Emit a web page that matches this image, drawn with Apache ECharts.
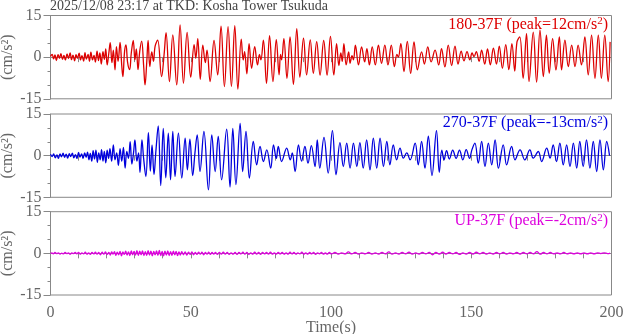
<!DOCTYPE html>
<html><head><meta charset="utf-8">
<script src="https://cdn.jsdelivr.net/npm/echarts@6/dist/echarts.min.js"></script>
<style>html,body{margin:0;padding:0;background:#fff}#c{width:624px;height:334px}</style>
</head><body><div id="c"></div>
<script>
// ---- data: [time(s), acceleration(cm/s^2)] at turning points ----
const ns180 = [[0,0.3],[0.6,1.0],[1.1,-0.6],[1.6,0.8],[2.1,-1.2],[2.7,0.9],[3.2,-0.4],[3.7,1.3],[4.3,-0.8],[4.8,0.6],[5.3,-1.0],[5.9,1.2],[6.4,-0.5],[7.0,1.5],[7.5,-0.9],[8.0,0.7],[8.6,-1.3],[9.1,0.9],[9.6,-0.4],[10.2,1.4],[10.7,-1.0],[11.2,0.5],[11.8,-1.4],[12.3,1.6],[12.8,-0.7],[13.4,1.0],[13.9,-1.5],[14.4,1.8],[15.0,-1.0],[15.5,0.6],[16.0,-1.8],[16.6,2.2],[17.1,-1.2],[17.6,1.5],[18.1,-2.5],[18.7,2.0],[19.2,-0.8],[19.7,3.0],[20.2,-2.8],[20.8,1.5],[21.3,5.2],[21.9,-2.0],[22.4,2.5],[23.0,-4.6],[23.5,3.8],[24.1,-1.5],[24.8,5.3],[25.4,-3.0],[25.8,-7.0],[26.4,2.0],[26.9,4.4],[27.5,-2.0],[28.2,-4.5],[28.8,1.5],[29.5,6.0],[30.1,-1.0],[30.6,3.0],[31.2,-4.5],[31.8,2.0],[32.5,5.8],[33.2,-3.0],[33.7,-10.0],[34.3,-2.0],[34.8,6.0],[35.4,-3.4],[36.1,1.9],[36.7,-1.5],[37.3,4.0],[38.2,6.1],[39.6,-7.0],[40.5,1.0],[41.2,8.8],[42.4,-8.8],[43.6,8.0],[45.0,-10.0],[46.2,11.6],[47.4,-9.4],[48.7,8.9],[50.0,-7.2],[51.2,4.5],[51.8,-0.4],[52.5,6.7],[53.4,-8.0],[54.3,4.3],[55.2,-2.0],[55.8,2.5],[56.9,-8.8],[58.3,6.0],[59.6,-6.4],[60.8,11.2],[62.0,-10.6],[63.3,11.0],[64.5,-10.5],[65.7,11.3],[66.8,-11.5],[68.0,6.5],[68.7,-1.0],[69.2,2.0],[70.0,-6.0],[70.8,4.9],[71.7,-4.0],[72.8,3.8],[73.8,-2.8],[74.5,1.0],[75.0,-1.0],[75.9,6.1],[77.0,-9.4],[78.1,7.7],[79.3,-8.8],[80.5,6.3],[81.5,-6.4],[82.0,1.0],[82.4,-1.0],[83.2,6.7],[84.3,-7.6],[85.4,7.3],[86.6,-9.8],[87.8,10.3],[88.9,-7.2],[90.2,6.8],[91.3,-6.4],[92.6,6.2],[93.7,-5.8],[94.9,5.6],[96.1,-6.5],[97.4,6.0],[98.6,-6.5],[99.8,7.5],[101.0,-6.4],[102.0,4.9],[102.8,-3.0],[103.5,1.5],[104.0,-1.5],[104.6,4.9],[105.4,-2.8],[106.3,1.9],[106.8,-2.2],[107.5,0.5],[108.0,-1.0],[108.7,4.3],[109.8,-2.8],[110.9,3.7],[112.0,-1.7],[112.8,3.1],[113.7,-2.8],[114.7,3.7],[115.8,-2.8],[116.9,4.3],[118.0,-2.2],[119.2,4.3],[120.3,-2.8],[121.5,4.3],[122.6,-3.4],[123.5,1.0],[124.0,0.0],[124.9,4.9],[126.0,-5.2],[127.2,5.7],[128.4,-5.8],[129.6,5.5],[130.8,-4.6],[132.3,1.9],[133.3,-2.5],[134.5,3.7],[135.7,-1.7],[137.1,2.5],[138.4,-2.8],[139.4,3.1],[140.6,-3.5],[141.8,4.3],[143.0,-3.0],[144.2,4.0],[145.3,-2.5],[146.4,2.2],[147.4,-1.3],[148.5,2.0],[149.5,-1.0],[150.3,1.5],[151.0,0.2],[151.8,2.0],[152.8,-1.5],[153.7,2.5],[154.8,-2.5],[155.8,3.0],[156.8,-2.8],[157.9,3.2],[159.0,-2.5],[160.0,4.0],[161.1,-4.0],[162.3,4.5],[163.4,-4.5],[164.5,4.9],[165.5,-5.0],[166.3,5.5],[167.3,7.3],[168.5,-7.6],[169.7,8.5],[170.6,-8.8],[172.1,9.0],[173.3,-9.0],[174.5,9.7],[175.7,-7.0],[176.8,7.9],[177.8,-5.8],[179.0,6.7],[180.2,-4.6],[181.4,7.3],[182.2,-4.6],[183.4,6.1],[184.6,-3.4],[185.8,4.3],[187.0,-3.4],[188.1,4.3],[189.3,-2.8],[190.5,7.3],[191.7,-6.4],[192.9,7.9],[194.1,-7.6],[195.3,7.9],[196.4,-7.6],[197.6,7.9],[198.8,-8.8],[199.5,5.5]];

const ew270 = [[0,0.5],[0.6,-0.3],[1.1,0.6],[1.7,-0.8],[2.3,0.3],[2.8,-1.0],[3.4,0.6],[3.9,-0.4],[4.5,0.9],[5.0,-0.6],[5.6,0.5],[6.1,-0.9],[6.7,0.7],[7.2,-0.3],[7.8,0.9],[8.3,-0.8],[8.9,0.4],[9.4,-1.0],[10.0,1.2],[10.5,-0.5],[11.1,0.6],[11.6,-1.0],[12.2,1.0],[12.7,-0.6],[13.2,1.3],[13.7,-1.5],[14.2,0.8],[14.7,-2.0],[15.2,1.8],[15.7,-1.2],[16.2,2.0],[16.7,-2.4],[17.2,1.0],[17.7,-1.5],[18.2,2.2],[18.7,-2.0],[19.2,1.5],[19.7,-2.6],[20.2,2.0],[20.7,-1.0],[21.2,2.5],[21.8,-2.0],[22.4,3.9],[23.0,-1.5],[23.6,1.0],[24.2,-3.5],[24.8,2.5],[25.4,-2.0],[26.0,3.0],[26.6,-4.5],[27.2,1.5],[27.8,-1.0],[28.4,5.0],[29.0,-3.0],[29.6,1.0],[30.1,5.7],[30.8,-2.0],[31.4,1.0],[31.9,-6.0],[32.6,5.7],[33.2,-1.0],[34.0,-7.5],[34.9,8.3],[35.6,-5.6],[36.2,3.9],[36.9,-6.8],[37.6,2.0],[38.4,10.7],[39.3,-10.8],[40.2,9.8],[41.1,-8.0],[42.0,8.1],[42.8,-8.7],[43.6,8.7],[44.4,-7.5],[45.6,8.1],[46.8,-8.1],[48.0,6.3],[48.8,-5.1],[49.7,5.9],[50.7,-7.2],[51.5,1.0],[52.3,7.5],[53.3,-5.7],[54.7,8.7],[56.3,-12.3],[57.5,7.5],[58.7,-5.7],[59.8,6.9],[61.0,-8.7],[62.8,9.5],[64.0,-11.3],[65.0,9.8],[66.1,-10.4],[67.6,11.6],[68.5,-5.7],[69.7,8.7],[70.9,-8.1],[72.3,5.1],[73.5,-3.3],[74.7,3.3],[75.9,-2.1],[77.1,2.1],[78.5,-4.5],[79.5,3.9],[80.5,-1.0],[81.2,3.3],[82.4,-2.1],[84.2,2.7],[85.5,-1.5],[86.2,1.0],[87.2,-5.7],[88.4,3.9],[89.5,-2.0],[90.7,3.3],[91.8,-2.7],[93.0,3.6],[94.3,-3.9],[95.1,5.7],[96.0,-4.5],[97.5,6.6],[99.0,-6.3],[100.5,9.0],[101.8,-6.9],[103.2,4.7],[104.4,-3.9],[105.6,4.5],[106.8,-4.5],[108.0,4.5],[109.2,-3.9],[110.3,4.7],[111.5,-4.5],[112.7,5.7],[113.9,-5.1],[115.1,6.3],[116.3,-4.5],[117.5,6.3],[118.7,-3.9],[119.9,5.1],[121.0,-3.3],[122.2,3.9],[123.4,-1.5],[124.6,2.7],[125.8,-0.9],[127.0,1.0],[128.2,-1.5],[130.0,4.5],[131.1,-3.3],[132.3,5.1],[133.5,-4.5],[134.7,7.0],[136.0,-7.2],[137.6,9.0],[138.6,-6.0],[139.5,2.0],[140.3,-1.5],[141.2,1.8],[142.2,-1.2],[143.4,2.0],[144.6,-1.0],[145.8,2.0],[147.0,-1.5],[148.2,2.2],[149.4,-1.0],[150.2,2.0],[151.3,4.5],[152.5,-2.7],[153.7,5.1],[154.9,-3.9],[156.1,4.5],[157.3,-3.3],[158.5,5.7],[159.7,-4.5],[161.4,3.9],[162.6,-3.3],[164.4,3.3],[165.6,-1.5],[167.4,2.1],[169.1,-1.5],[170.9,2.1],[172.1,-0.9],[173.9,1.5],[175.1,-2.1],[176.9,2.7],[178.1,-0.9],[179.2,3.9],[180.4,-2.1],[181.6,4.5],[182.8,-3.3],[184.0,3.9],[185.2,-3.9],[186.4,4.5],[187.6,-4.5],[188.7,5.1],[189.9,-3.9],[191.1,5.7],[192.3,-4.5],[193.5,5.1],[194.7,-5.7],[195.9,5.7],[197.1,-5.1],[198.3,5.1],[199.3,0.0]];

const ud = [[0,0],[0.5,0.2],[1.0,-0.2],[1.6,0.3],[2.2,-0.1],[2.8,0.2],[3.4,-0.3],[4.0,0.1],[4.6,-0.2],[5.2,0.3],[5.8,-0.1],[6.4,0.2],[7.0,-0.3],[7.6,0.2],[8.2,-0.1],[8.8,0.3],[9.4,-0.2],[10.0,0.3],[10.6,-0.3],[11.2,0.2],[11.8,-0.2],[12.4,0.4],[13.0,-0.3],[13.6,0.2],[14.2,-0.4],[14.8,0.3],[15.4,-0.2],[16.0,0.4],[16.6,-0.3],[17.2,0.3],[17.8,-0.5],[18.4,0.4],[19.0,-0.3],[19.6,0.5],[20.2,-0.4],[20.8,0.3],[21.3,-0.6],[21.8,0.5],[22.3,-0.3],[22.8,0.6],[23.3,-0.7],[23.8,0.4],[24.3,-0.5],[24.8,0.7],[25.3,-0.9],[25.8,0.5],[26.3,-0.4],[26.8,0.8],[27.3,-0.6],[27.8,0.5],[28.3,-0.8],[28.8,0.9],[29.3,-0.5],[29.8,0.7],[30.3,-0.6],[30.8,1.0],[31.3,-0.7],[31.8,0.8],[32.3,-0.5],[32.8,0.9],[33.3,-0.8],[33.8,0.6],[34.3,-0.7],[34.8,1.0],[35.3,-0.6],[35.8,0.8],[36.3,-0.9],[36.8,0.7],[37.3,-0.5],[37.8,0.9],[38.3,-0.7],[38.8,1.1],[39.3,-0.8],[39.8,0.7],[40.3,-0.9],[40.8,0.8],[41.3,-0.6],[41.8,0.9],[42.3,-0.8],[42.8,0.6],[43.3,-0.7],[43.8,0.8],[44.3,-0.5],[44.8,0.7],[45.3,-0.8],[45.8,0.5],[46.3,-0.6],[46.8,0.6],[47.4,-0.5],[48.0,0.5],[48.6,-0.6],[49.2,0.4],[49.8,-0.4],[50.4,0.5],[51.0,-0.5],[51.6,0.3],[52.2,-0.4],[52.8,0.4],[53.4,-0.3],[54.0,0.4],[54.6,-0.5],[55.2,0.3],[55.8,-0.3],[56.4,0.4],[57.0,-0.4],[57.6,0.3],[58.2,-0.3],[58.8,0.3],[59.5,-0.4],[60.2,0.3],[60.9,-0.3],[61.6,0.4],[62.3,-0.3],[63.0,0.3],[63.7,-0.4],[64.4,0.2],[65.1,-0.3],[65.8,0.3],[66.5,-0.4],[67.2,0.3],[67.9,-0.2],[68.6,0.4],[69.3,-0.3],[70.0,0.3],[70.7,-0.4],[71.4,0.2],[72.1,-0.3],[72.8,0.4],[73.5,-0.3],[74.2,0.3],[74.9,-0.4],[75.6,0.3],[76.3,-0.2],[77.0,0.3],[77.7,-0.3],[78.4,0.4],[79.1,-0.3],[79.8,0.2],[80.5,-0.3],[81.2,0.3],[81.9,-0.2],[82.6,0.3],[83.3,-0.3],[84.0,0.2],[84.7,-0.3],[85.4,0.4],[86.1,-0.2],[86.8,0.3],[87.5,-0.3],[88.2,0.2],[88.9,-0.2],[89.6,0.4],[90.3,-0.3],[91.0,0.2],[91.7,-0.3],[92.4,0.3],[93.1,-0.2],[93.8,0.3],[94.5,-0.4],[95.2,0.2],[95.9,-0.2],[96.6,0.3],[97.3,-0.3],[98.0,0.2],[98.7,-0.3],[99.4,0.3],[100.2,-0.2],[101.4,0.3],[102.6,-0.3],[103.8,0.2],[105.0,-0.2],[106.2,0.5],[107.4,-0.2],[108.6,0.3],[109.8,-0.3],[111.0,0.2],[112.2,-0.2],[113.4,0.3],[114.6,-0.3],[115.8,0.2],[117.0,-0.3],[118.2,0.3],[119.4,-0.2],[120.6,0.5],[121.8,-0.3],[123.0,0.2],[124.2,-0.3],[125.4,0.3],[126.6,-0.2],[127.8,0.4],[129.0,-0.3],[130.2,0.2],[131.4,-0.3],[132.6,0.3],[133.8,-0.2],[135.0,0.3],[136.2,-0.5],[137.4,0.3],[138.6,-0.3],[139.8,0.4],[141.0,-0.3],[142.2,0.3],[143.4,-0.2],[144.6,0.3],[145.8,-0.4],[147.0,0.2],[148.2,-0.3],[149.4,0.3],[150.6,-0.3],[151.8,0.4],[153.0,-0.2],[154.2,0.3],[155.4,-0.3],[156.6,0.2],[157.8,-0.3],[159.0,0.3],[160.2,-0.2],[161.4,0.3],[162.6,-0.3],[163.8,0.2],[165.0,-0.2],[166.2,0.3],[167.4,-0.3],[168.6,0.3],[169.8,-0.2],[171.0,0.3],[172.2,-0.2],[173.4,0.6],[174.6,-0.3],[175.8,0.3],[177.0,-0.2],[178.2,0.3],[179.4,-0.2],[180.6,0.2],[181.8,-0.2],[183.0,0.3],[184.2,-0.2],[185.4,0.2],[186.6,-0.2],[187.8,0.2],[189.0,-0.2],[190.2,0.2],[191.4,-0.2],[192.6,0.2],[193.8,-0.2],[195.0,0.2],[196.2,-0.1],[197.4,0.2],[198.6,-0.1],[199.5,0.1]];

const titleText = '2025/12/08 23:17 at TKD: Kosha Tower Tsukuda';
const labels = ['180-37F (peak=12cm/s{s|2})', '270-37F (peak=-13cm/s{s|2})', 'UP-37F (peak=-2cm/s{s|2})'];
const colors = ['#dd0000', '#0000dd', '#dd00dd'];
const xRange = [0, 200], xStep = 50;
const yRange = [-15, 15], yStep = 15;
const yName = '(cm/s²)', xName = 'Time(s)';

// ---- layout ----
const FONT = 'Liberation Serif';
const tops = [15.5, 114, 211.7];
const H = 83.3;
const grey = '#888', txt = '#666';

const chart = echarts.init(document.getElementById('c'), null, {renderer: 'canvas'});
const grids = tops.map(t => ({left: 50.5, right: 12.5, top: t, height: H, show: true, borderColor: grey, borderWidth: 1,
  backgroundColor: 'transparent', containLabel: false, outerBoundsMode: 'none'}));
const xAxes = tops.map((t, i) => ({
  type: 'value', gridIndex: i, min: xRange[0], max: xRange[1], interval: xStep,
  axisLine: {show: true, lineStyle: {color: grey, width: 1}},
  axisTick: {show: true, length: 5, lineStyle: {color: grey}},
  minorTick: {show: true, splitNumber: 5, length: 5, lineStyle: {color: grey}},
  splitLine: {show: false}, minorSplitLine: {show: false},
  axisLabel: {show: i === 2, color: txt, fontFamily: FONT, fontSize: 16, margin: 10},
  name: i === 2 ? xName : '', nameLocation: 'middle', nameGap: 25, nameMoveOverlap: false,
  nameTextStyle: {color: txt, fontFamily: FONT, fontSize: 16}
}));
const yAxes = tops.map((t, i) => ({
  type: 'value', gridIndex: i, min: yRange[0], max: yRange[1], interval: yStep,
  axisLine: {show: true, lineStyle: {color: grey, width: 1}},
  axisTick: {show: true, length: 7, lineStyle: {color: grey}},
  minorTick: {show: true, splitNumber: 3, length: 3, lineStyle: {color: grey}},
  splitLine: {show: false}, minorSplitLine: {show: false},
  axisLabel: {color: txt, fontFamily: FONT, fontSize: 16, margin: 9},
  name: yName, nameLocation: 'middle', nameGap: 35, nameRotate: 90, nameMoveOverlap: false,
  nameTextStyle: {color: txt, fontFamily: FONT, fontSize: 16}
}));
const seriesData = [ns180, ew270, ud];
const series = seriesData.map((d, i) => ({
  type: 'line', xAxisIndex: i, yAxisIndex: i, data: d, showSymbol: false, symbol: 'none',
  smooth: 0.4, lineStyle: {color: colors[i], width: 1.3}, animation: false, clip: true
}));
const graphics = [{
  type: 'text', left: 50, top: -1,
  style: {text: titleText, fill: '#444', font: '14px "' + FONT + '"'}
}].concat(labels.map((l, i) => ({
  type: 'text', right: 16, top: tops[i] + 0.5,
  style: {
    text: l, fill: colors[i], font: '16px "' + FONT + '"',
    rich: {s: {fontSize: 11, verticalAlign: 'top', fill: colors[i], fontFamily: FONT, padding: [0, 0, 6, 0]}}
  }
})));
chart.setOption({
  animation: false, backgroundColor: '#fff',
  grid: grids, xAxis: xAxes, yAxis: yAxes, series: series, graphic: graphics
});
</script></body></html>
